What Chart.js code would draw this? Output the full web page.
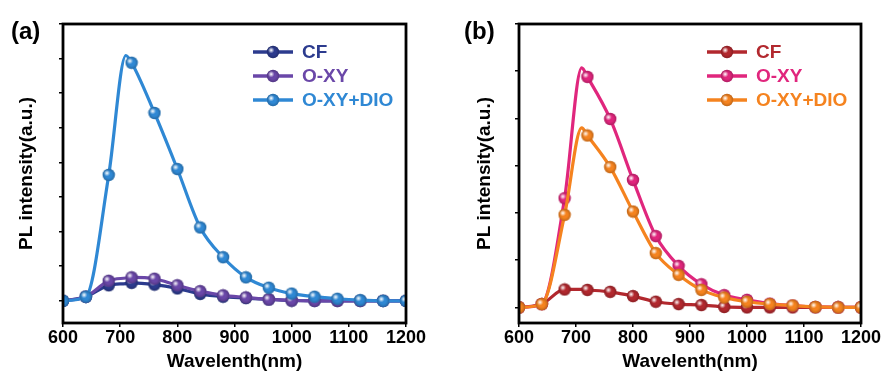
<!DOCTYPE html>
<html lang="en">
<head>
    <meta charset="UTF-8">
    <title>PL spectra</title>
    <script src="https://cdn.jsdelivr.net/npm/chart.js"></script>
    <style>
        body { margin: 0; background: #fff; }
        .wrap { position: relative; width: 883px; height: 374px; }
        canvas { position: absolute; top: 0; }
        .tag { position: absolute; top: 19px; font: bold 24px Arial, "Liberation Sans", sans-serif; line-height: 24px; color: #000; }
    </style>
</head>
<body>
<div class="wrap">
    <canvas id="chartA" width="441" height="374" style="left:0"></canvas>
    <canvas id="chartB" width="442" height="374" style="left:441px"></canvas>
    <div class="tag" style="left:11px">(a)</div>
    <div class="tag" style="left:464px">(b)</div>
</div>
<script>
    // wavelength (nm); 710 is the curve peak, no marker there
    var wavelengths = [600, 640, 680, 710, 720, 760, 800, 840, 880, 920, 960, 1000, 1040, 1080, 1120, 1160, 1200];
    var xTicks = [600, 700, 800, 900, 1000, 1100, 1200];
    var seriesNames = ['CF', 'O-XY', 'O-XY+DIO'];

    // panel (a)
    var cfA  = [0, 0.12, 0.45, 0.50, 0.52, 0.47, 0.36, 0.20, 0.12, 0.08, 0.04, 0.01, 0, 0, 0, 0, 0];
    var oxyA = [0, 0.12, 0.58, 0.66, 0.68, 0.64, 0.45, 0.28, 0.16, 0.10, 0.04, 0.01, 0, 0, 0, 0, 0];
    var dioA = [0, 0.12, 3.64, 7.09, 6.88, 5.43, 3.81, 2.12, 1.26, 0.68, 0.38, 0.21, 0.12, 0.06, 0.02, 0, 0];

    // panel (b)
    var cfB  = [0, 0.07, 0.38, 0.38, 0.37, 0.33, 0.24, 0.12, 0.07, 0.05, 0.01, 0, 0, 0, 0, 0, 0];
    var oxyB = [0, 0.07, 2.31, 5.07, 4.88, 3.99, 2.70, 1.51, 0.88, 0.49, 0.26, 0.16, 0.08, 0.04, 0.01, 0, 0];
    var dioB = [0, 0.07, 1.96, 3.80, 3.64, 2.97, 2.03, 1.15, 0.69, 0.37, 0.21, 0.12, 0.07, 0.04, 0.01, 0, 0];

    var FONT = 'Arial, "Liberation Sans", sans-serif';

    // shiny ball marker
    function ball(color) {
        var r = 6.2, c = document.createElement('canvas');
        c.width = c.height = 14;
        var g = c.getContext('2d');
        g.beginPath();
        g.arc(7, 7, r, 0, Math.PI * 2);
        g.fillStyle = color;
        g.fill();
        var shade = g.createRadialGradient(7, 7, r * 0.5, 7, 7, r);
        shade.addColorStop(0, 'rgba(0,0,0,0)');
        shade.addColorStop(1, 'rgba(0,0,0,0.22)');
        g.fillStyle = shade;
        g.fill();
        var hi = g.createRadialGradient(5.2, 5.2, 0.2, 5.2, 5.2, 3.2);
        hi.addColorStop(0, 'rgba(255,255,255,0.95)');
        hi.addColorStop(1, 'rgba(255,255,255,0)');
        g.fillStyle = hi;
        g.fill();
        return c;
    }

    var framePlugin = {
        id: 'frame',
        afterDatasetsDraw: function (chart) {
            var a = chart.chartArea, ctx = chart.ctx;
            ctx.save();
            ctx.strokeStyle = '#000';
            ctx.lineWidth = 2.8;
            ctx.strokeRect(a.left, a.top, a.right - a.left, a.bottom - a.top);
            ctx.restore();
        }
    };

    var legendPlugin = {
        id: 'panelLegend',
        afterDraw: function (chart, args, opts) {
            var ctx = chart.ctx;
            ctx.save();
            chart.data.datasets.forEach(function (ds, i) {
                var y = opts.y + i * opts.gap;
                ctx.strokeStyle = ds.borderColor;
                ctx.lineWidth = 3.5;
                ctx.beginPath();
                ctx.moveTo(opts.x, y);
                ctx.lineTo(opts.x + 40, y);
                ctx.stroke();
                var img = ds.pointStyle;
                ctx.drawImage(img, opts.x + 20 - img.width / 2, y - img.height / 2);
                ctx.fillStyle = ds.borderColor;
                ctx.font = 'bold 19px ' + FONT;
                ctx.textBaseline = 'middle';
                ctx.fillText(ds.label, opts.x + 49, y + 1);
            });
            ctx.restore();
        }
    };

    function makeDataset(name, values, color, order) {
        return {
            label: name,
            data: wavelengths.map(function (w, i) { return { x: w, y: values[i] }; }),
            borderColor: color,
            backgroundColor: color,
            borderWidth: 3.2,
            pointStyle: ball(color),
            pointRadius: wavelengths.map(function (w) { return w % 40 === 0 ? 6 : 0; }),
            cubicInterpolationMode: 'monotone',
            order: order
        };
    }

    function makeChart(id, sets, colors, yMin, yMax, yAxisWidth, titlePad, rightPad, legendX) {
        var ctx = document.getElementById(id).getContext('2d');
        return new Chart(ctx, {
            type: 'line',
            data: {
                datasets: [
                    makeDataset(seriesNames[0], sets[0], colors[0], 3),
                    makeDataset(seriesNames[1], sets[1], colors[1], 2),
                    makeDataset(seriesNames[2], sets[2], colors[2], 1)
                ]
            },
            options: {
                responsive: false,
                animation: false,
                events: [],
                layout: { padding: { top: 24, right: rightPad, left: 0, bottom: 0 } },
                scales: {
                    x: {
                        type: 'linear',
                        min: 600,
                        max: 1200,
                        afterBuildTicks: function (s) { s.ticks = xTicks.map(function (v) { return { value: v }; }); },
                        afterFit: function (s) { s.height = 51; },
                        border: { display: false },
                        grid: { drawOnChartArea: false, color: '#000', lineWidth: 1.5, tickLength: 4 },
                        ticks: {
                            color: '#000', padding: 0, maxRotation: 0,
                            callback: function (v) { return String(v); },
                            font: { family: FONT, size: 18, weight: 'bold' }
                        },
                        title: { display: true, text: 'Wavelenth(nm)', color: '#000', padding: { top: 0, bottom: 0.6 }, font: { family: FONT, size: 19, weight: 'bold' } }
                    },
                    y: {
                        min: yMin,
                        max: yMax,
                        afterBuildTicks: function (s) { s.ticks = s.ticks.filter(function (t) { return Number.isInteger(t.value); }); },
                        afterFit: function (s) { s.width = yAxisWidth; },
                        border: { display: false },
                        grid: { drawOnChartArea: false, color: '#000', lineWidth: 1.5, tickLength: 4 },
                        ticks: { display: false, stepSize: 1 },
                        title: { display: true, text: 'PL intensity(a.u.)', color: '#000', padding: { top: titlePad, bottom: 0 }, font: { family: FONT, size: 19, weight: 'bold' } }
                    }
                },
                plugins: {
                    legend: { display: false },
                    tooltip: { enabled: false },
                    panelLegend: { x: legendX, y: 52, gap: 24 }
                }
            },
            plugins: [framePlugin, legendPlugin]
        });
    }

    makeChart('chartA', [cfA, oxyA, dioA], ['#2c3b8e', '#6a47a8', '#2f88d4'], -0.64, 8, 63, 15.6, 35, 253);
    makeChart('chartB', [cfB, oxyB, dioB], ['#b2282e', '#e0267d', '#f5831f'], -0.33, 6, 78, 32.6, 22, 266);
</script>
</body>
</html>
